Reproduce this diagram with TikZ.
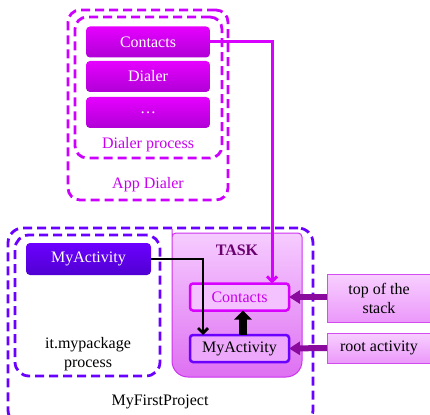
\documentclass[tikz,border=0pt]{standalone}
\usepackage{fontspec}
\setmainfont{Liberation Serif}
\usetikzlibrary{arrows.meta,calc}
\definecolor{magdash}{HTML}{CC00FF}
\definecolor{viodash}{HTML}{6A00FF}
\definecolor{magtop}{HTML}{E600FF}
\definecolor{magbot}{HTML}{B000D6}
\definecolor{viotop}{HTML}{6C00FF}
\definecolor{viobot}{HTML}{5000D2}
\definecolor{tasktop}{HTML}{F6CCFF}
\definecolor{taskbot}{HTML}{DE70F2}
\definecolor{taskedge}{HTML}{CC33EE}
\definecolor{sidetop}{HTML}{F8D0FF}
\definecolor{sidebot}{HTML}{EB98FA}
\definecolor{sideedge}{HTML}{D24CF0}
\definecolor{magtext}{HTML}{C800F0}
\definecolor{magline}{HTML}{D800FF}
\definecolor{tasktext}{HTML}{6B0070}
\definecolor{purp}{HTML}{8A0A9E}
\definecolor{ctfill}{HTML}{F4C2FF}
\definecolor{mafill}{HTML}{EDA8FB}
\tikzset{
  cont/.style={draw, dash pattern=on 9pt off 5pt, line width=2.8pt, rounded corners=12pt, inner sep=0pt, outer sep=0pt, minimum width=#1},
  magbox/.style={rectangle, rounded corners=4pt, minimum width=124pt, minimum height=31pt, inner sep=0pt, outer sep=0pt, text=white, top color=magtop, bottom color=magbot},
  viobox/.style={rectangle, rounded corners=4pt, minimum width=125pt, minimum height=32pt, inner sep=0pt, outer sep=0pt, text=white, top color=viotop, bottom color=viobot},
  stackbox/.style={rectangle, rounded corners=3pt, minimum width=99pt, minimum height=27pt, inner sep=0pt, outer sep=0pt, line width=2.5pt},
  sidebox/.style={rectangle, minimum width=104pt, inner sep=0pt, outer sep=0pt, draw=sideedge, line width=1pt, top color=sidetop, bottom color=sidebot, align=center},
  barb/.style={-{Straight Barb[length=5pt,width=10pt]}},
  purparrow/.style={draw=purp, line width=6pt, -{Triangle[length=11pt,width=13pt]}, color=purp},
}
\begin{document}
\begin{tikzpicture}[x=1pt,y=-1pt,font=\fontsize{16}{19}\selectfont]
\useasboundingbox (0,0) rectangle (430,414);
% upper containers
\node[cont=160pt, minimum height=190pt, draw=magdash] (appd) at (148,105) {};
\node[cont=147pt, minimum height=141pt, draw=magdash] (dproc) at (148.5,87.5) {};
\node[magbox] (c1) at (148,42) {Contacts};
\node[magbox] (d1) at (148,76.5) {Dialer};
\node[magbox] (e1) at (148,112.5) {\dots};
\node[text=magtext] (dptext) at (148,145) {Dialer process};
\node[text=magtext] (adtext) at (148,185) {App Dialer};
% lower containers
\node[cont=305pt, minimum height=197pt, draw=viodash, rounded corners=15pt] (proj) at (160.5,326.5) {};
\node[cont=145pt, minimum height=141pt, draw=viodash, rounded corners=14pt] (pkg) at (87.5,305.5) {};
\node[viobox] (ma) at (88.5,259) {MyActivity};
\node[align=center] (pkgtext) at (88,354) {it.mypackage\\process};
\node (projtext) at (160,402) {MyFirstProject};
% task
\draw[draw=taskedge, line width=1pt, top color=tasktop, bottom color=taskbot]
  (172,245) [rounded corners=4pt] -- (172,233) -- (302,233) -- (302,250)
  [rounded corners=16pt] -- (302,377) -- (172,377) -- (172,245) -- cycle;
\node[text=tasktext, font=\fontsize{16}{19}\selectfont\bfseries] (tasktitle) at (237,250) {TASK};
\node[stackbox, draw=magline, fill=ctfill, text=magtext] (ct) at (239.5,297) {Contacts};
\node[stackbox, draw=viodash, fill=mafill] (ta) at (239.5,348.5) {MyActivity};
% side boxes
\node[sidebox, minimum height=48pt] (tos) at (379,298) {top of the\\stack};
\node[sidebox, minimum height=30pt] (root) at (379,348) {root activity};
% connectors
\draw[draw=magline, line width=3pt, barb] (c1.east) -| ([xshift=-17pt]ct.north east);
\draw[black, line width=2.8pt, barb] (ma.east) -| ([xshift=13pt]ta.north west);
\draw[black, line width=8pt, -{Triangle[length=9pt,width=17pt]}] ([xshift=3.5pt]ta.north) -- ([xshift=3.5pt]ct.south);
\draw[purparrow] (tos.west |- ct.east) -- (ct.east);
\draw[purparrow] (root.west) -- (ta.east);
\end{tikzpicture}
\end{document}
